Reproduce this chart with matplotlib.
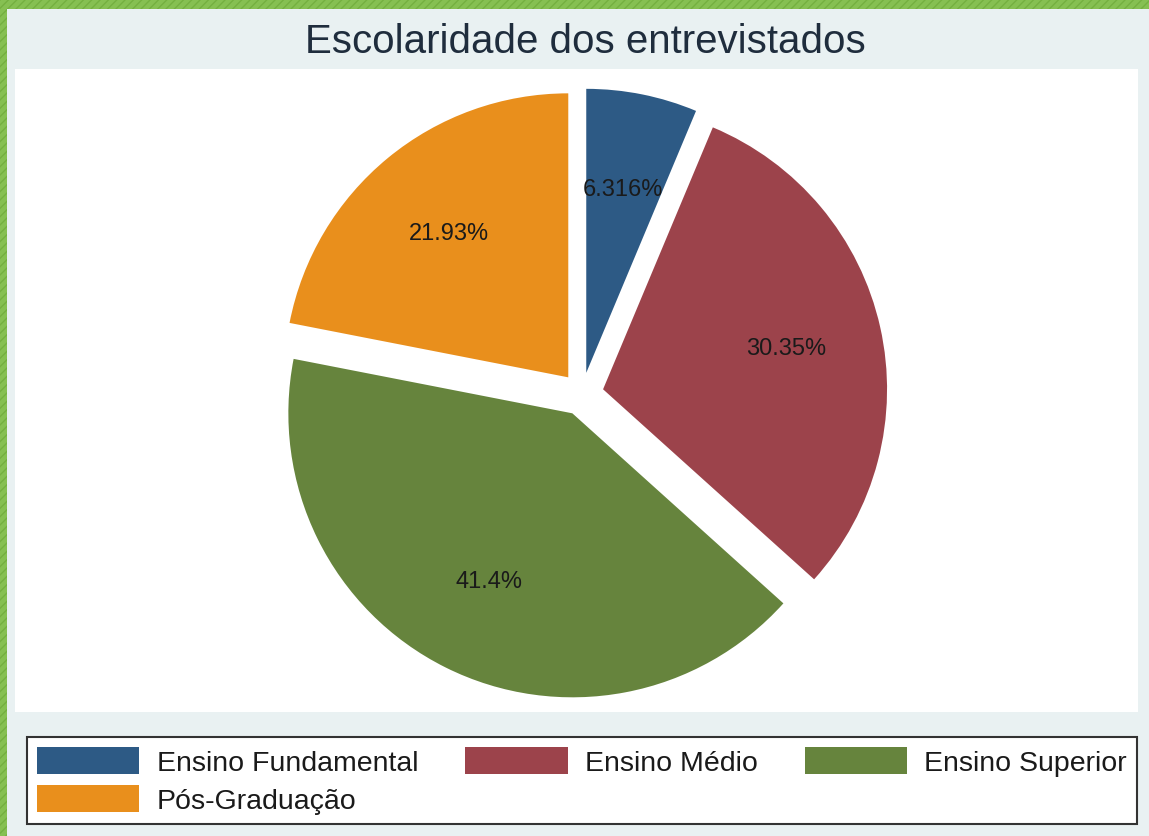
"""Pie chart: Escolaridade dos entrevistados."""

import matplotlib

matplotlib.use("Agg")
import matplotlib.pyplot as plt
from matplotlib.patches import Rectangle

W, H = 1149, 837

categories = ["Ensino Fundamental", "Ensino Médio", "Ensino Superior", "Pós-Graduação"]
shares = [6.316, 30.35, 41.4, 21.93]
colors = ["#2D5A85", "#9C434B", "#66843D", "#E98F1C"]

plt.rcParams.update({"font.family": ["Liberation Sans", "DejaVu Sans"]})


def px_rect(x, y, w, h, **kw):
    """Rectangle given in image pixels (origin top-left)."""
    return Rectangle((x / W, 1 - (y + h) / H), w / W, h / H, transform=fig.transFigure, **kw)


fig = plt.figure(figsize=(W / 100, H / 100), dpi=100)
fig.patch.set_facecolor("#E9F1F2")

# green hatched frame on top and left
for x, y, w, h in [(0, 0, W, 10), (0, 0, 7, H)]:
    fig.add_artist(px_rect(x, y, w, h, facecolor="#86C052", edgecolor="#74B040",
                           hatch="////", linewidth=0, zorder=0))
# white plot region
fig.add_artist(px_rect(15, 70, 1123, 643, facecolor="white", edgecolor="none", zorder=0))

fig.text(585 / W, 1 - 42 / H, "Escolaridade dos entrevistados", ha="center", va="center",
         fontsize=29, color="#1F2D3D")

# pie axes, centred on the pie
cx, cy, r = 582, 395, 284
half = 330
ax = fig.add_axes([(cx - half) / W, 1 - (cy + half) / H, 2 * half / W, 2 * half / H])

wedges, _, autotexts = ax.pie(
    shares,
    colors=colors,
    startangle=90,
    counterclock=False,
    explode=[0.076] * len(shares),
    autopct=lambda p: f"{p:.4g}%",
    pctdistance=0.66,
    wedgeprops={"linewidth": 0},
    textprops={"fontsize": 17, "color": "#1a1a1a"},
)
# pie() resets the limits, so set them afterwards
ax.set_xlim(-half / r, half / r)
ax.set_ylim(-half / r, half / r)
ax.axis("off")

# legend: matplotlib fills columns first, so reorder to get row-wise layout
order = [0, 3, 1, 2]
leg = fig.legend(
    [wedges[i] for i in order],
    [categories[i] for i in order],
    loc="lower left",
    bbox_to_anchor=(27 / W, 12 / H, 1110 / W, 94 / H),
    mode="expand",
    ncol=3,
    fontsize=20.5,
    frameon=True,
    fancybox=False,
    framealpha=1,
    facecolor="white",
    borderaxespad=0,
    handlelength=3.6,
    handleheight=1.1,
    handletextpad=0.6,
    labelspacing=0.3,
    borderpad=0.35,
)
leg.get_frame().set_edgecolor("#333333")
leg.get_frame().set_linewidth(1.5)
for t in leg.get_texts():
    t.set_color("#1a1a1a")

fig.savefig("out.png", dpi=100, facecolor=fig.get_facecolor())
